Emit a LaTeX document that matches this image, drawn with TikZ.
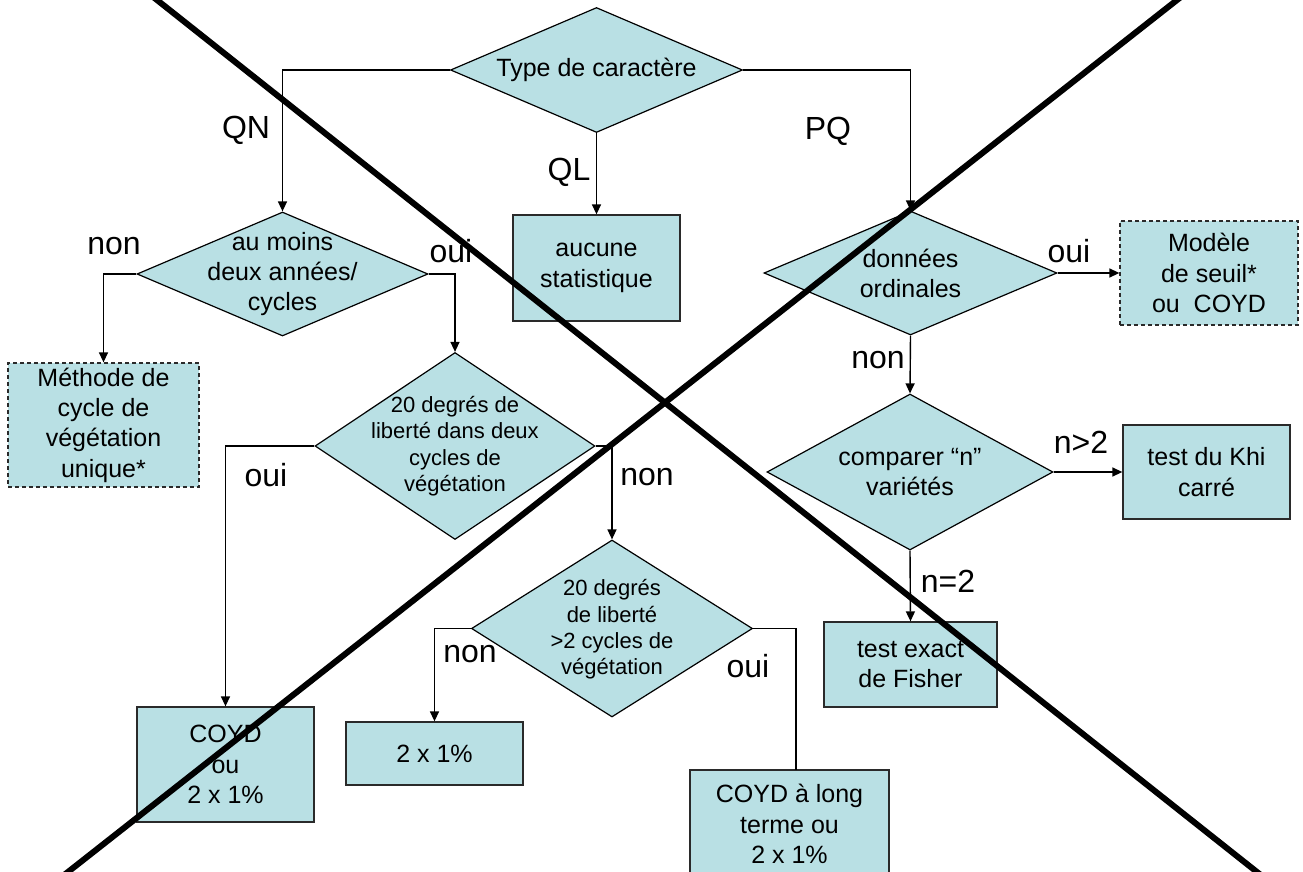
\documentclass[tikz,border=0pt]{standalone}
\usepackage{fontspec}
\setmainfont{Liberation Sans}
\usetikzlibrary{shapes.geometric,arrows.meta}
\definecolor{boxfill}{HTML}{B9E0E4}
\definecolor{boxline}{HTML}{2A2A2A}
\tikzset{
  dia/.style={diamond, draw=black, line width=0.6pt, fill=boxfill, inner sep=0pt},
  dtxt/.style={align=center, inner sep=0pt, font=\fontsize{12.5}{15}\selectfont},
  dtxts/.style={align=center, inner sep=0pt, font=\fontsize{11}{13.2}\selectfont},
  box/.style={rectangle, draw=boxline, line width=0.65pt, fill=boxfill, inner sep=0pt, align=center, font=\fontsize{12.5}{15.2}\selectfont},
  dbox/.style={box, dash pattern=on 2pt off 1.5pt},
  lbl/.style={inner sep=0pt, font=\fontsize{16}{19}\selectfont},
  conn/.style={line width=0.7pt},
  arr/.style={conn, -{Triangle[length=5pt,width=4.5pt]}},
  cross/.style={line width=3pt, line cap=butt}
}
\begin{document}
\begin{tikzpicture}[x=0.5pt, y=-0.5pt]
\useasboundingbox (0,0) rectangle (1303,872);
% diamonds
\node[dia, minimum width=146pt, minimum height=62.5pt] (d0) at (596.5,70) {};
\node[dtxt] (d0t) at (d0) {Type de caractère};
\node[dia, minimum width=145.5pt, minimum height=62pt] (d1) at (282.5,274) {};
\node[dtxt] (d1t) at (d1) {au moins\\deux années/\\cycles};
\node[dia, minimum width=140pt, minimum height=93.5pt] (d2) at (455,446) {};
\node[dtxts] (d2t) at (d2) {20 degrés de\\liberté dans deux\\cycles de\\végétation};
\node[dia, minimum width=140.5pt, minimum height=88.5pt] (d3) at (612,628.5) {};
\node[dtxts] (d3t) at (612,629.5) {20 degrés\\de liberté\\>2 cycles de\\végétation};
\node[dia, minimum width=146.5pt, minimum height=62pt] (d4) at (910.5,273) {};
\node[dtxt] (d4t) at (d4) {données\\ordinales};
\node[dia, minimum width=143pt, minimum height=78pt] (d5) at (910,472) {};
\node[dtxt] (d5t) at (d5) {comparer “n”\\variétés};
% boxes
\node[box, minimum width=83.5pt, minimum height=53pt] (aucune) at (596.5,268) {aucune\\statistique};
\node[dbox, minimum width=95.5pt, minimum height=62pt] (meth) at (103.5,425) {Méthode de\\cycle de\\végétation\\unique*};
\node[dbox, minimum width=89pt, minimum height=52pt] (modele) at (1209,273) {Modèle\\de seuil*\\ou\ \ COYD};
\node[box, minimum width=83.5pt, minimum height=47pt] (khi) at (1206.5,472) {test du Khi\\carré};
\node[box, minimum width=86.5pt, minimum height=42.5pt] (fisher) at (910.5,664.5) {test exact\\de Fisher};
\node[box, minimum width=88.5pt, minimum height=57.5pt] (coyd) at (225.5,764.5) {COYD\\ou\\2 x 1\%};
\node[box, minimum width=88.5pt, minimum height=31.5pt] (b2x1) at (434.5,753.5) {2 x 1\%};
\node[box, minimum width=99.5pt, minimum height=54pt] (long) at (789.5,824) {COYD à long\\terme ou\\2 x 1\%};
\coordinate (longtop) at (796,770);
% connectors
\draw[arr] (d0.west) -| (d1.north);
\draw[arr] (d0.east) -| (d4.north);
\draw[arr] (d0.south) -- (aucune.north);
\draw[arr] (d1.west) -| (meth.north);
\draw[arr] (d1.east) -| (d2.north);
\draw[arr] (d2.west) -| (coyd.north);
\draw[arr] (d2.east) -| (d3.north);
\draw[arr] (d3.west) -| (b2x1.north);
\draw[conn] (d3.east) -| (longtop);
\draw[arr] (d4.east) -- (modele.west);
\draw[arr] (d4.south) -- (d5.north);
\draw[arr] (d5.east) -- (khi.west);
\draw[arr] (d5.south) -- (fisher.north);
% labels
\node[lbl] (lQN) at (246,130) {QN};
\node[lbl] (lQL) at (569,172) {QL};
\node[lbl] (lPQ) at (828,131) {PQ};
\node[lbl] (l1) at (114,246) {non};
\node[lbl] (l2) at (451,251) {oui};
\node[lbl] (l3) at (266,475) {oui};
\node[lbl] (l4) at (647,477) {non};
\node[lbl] (l5) at (470,654) {non};
\node[lbl] (l6) at (748,666) {oui};
\node[lbl] (l7) at (1069,251) {oui};
\node[lbl] (l8) at (878,360) {non};
\node[lbl] (l9) at (1081,442) {n>2};
\node[lbl] (l10) at (948,581) {n=2};
% big cross
\coordinate (xa1) at (150.7,-5);
\coordinate (xa2) at (1263.3,877);
\coordinate (xb1) at (1183.4,-5);
\coordinate (xb2) at (61.6,877);
\draw[cross] (xa1) -- (xa2);
\draw[cross] (xb1) -- (xb2);
\end{tikzpicture}
\end{document}
